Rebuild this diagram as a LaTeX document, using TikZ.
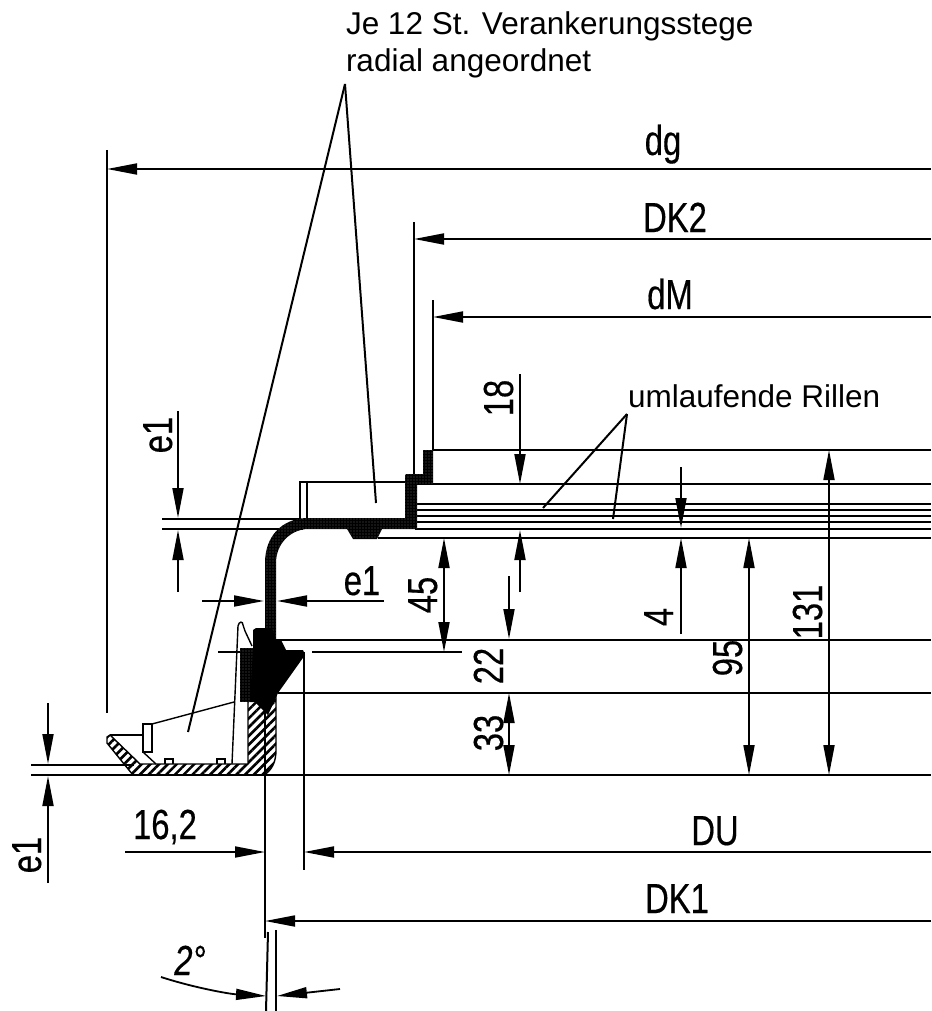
\documentclass[tikz,border=0pt]{standalone}
\usepackage{fontspec}
\setmainfont{Liberation Sans}
\newfontfamily\dimfont[FakeStretch=.78,FakeBold=.4]{Liberation Sans}
\usepackage{tikz}
\usetikzlibrary{arrows.meta}
\usetikzlibrary{patterns.meta}

\begin{document}
\begin{tikzpicture}[x=1pt,y=-1pt,line width=2pt,
  every node/.style={inner sep=0pt,font=\dimfont\fontsize{42}{44}\selectfont},
  note/.style={anchor=base west,font=\normalfont\fontsize{31.5}{34}\selectfont},
  tip/.tip={Triangle[length=30pt,width=11pt]},
  dimline/.style={-tip,line width=1.8pt},
  dimboth/.style={tip-tip,line width=1.8pt},
  thinline/.style={line width=1.4pt},
  hatched/.style={pattern={Lines[angle=45,distance=6.2pt,line width=2.6pt]},draw,line width=1.4pt},
  stipple/.style={fill=black,postaction={pattern={Dots[distance=3pt,radius=.3pt]},pattern color=white}}]

  \useasboundingbox (0,0) rectangle (931,1011);

  % long lines
  \def \xr {931}
  \draw (433,450) -- (\xr,450);
  \draw (415,484) -- (\xr,484);
  \draw (415,504) -- (\xr,504);
  \draw[thinline] (415,510) -- (\xr,510);
  \draw (415,516) -- (\xr,516);
  \draw (415,522) -- (\xr,522);
  \draw (415,529) -- (\xr,529);
  \draw (378,538) -- (\xr,538);
  \draw (276,640) -- (\xr,640);
  \draw (278,693) -- (\xr,693);
  \draw (31,775) -- (\xr,775);
  \draw (31,765) -- (134,765);
  \draw (162,519) -- (300,519);
  \draw (162,529) -- (303,529);
  \draw (218,652) -- (242,652);
  \draw (312,652) -- (462,652);

  % extension lines
  \draw (107,150) -- (107,713);
  \draw (414,222) -- (414,476);
  \draw (433,300) -- (433,450);
  \draw (265,712) -- (265,938);
  \draw (304,652) -- (304,870);
  \draw (268,932) -- (266,1011);
  \draw (276,930) -- (276,1011);

  % shell, hatched
  \draw[hatched] (107,737) -- (110,735) -- (140,764) -- (248,764) -- (248,700)
    -- (276,690) -- (276,750) .. controls (276,762) and (272,770) .. (264,775)
    -- (133,775) -- (107,743) -- cycle;
  \draw (265,712) -- (265,775);

  % small parts at the foot
  \draw[thinline] (110,735) -- (143,735);
  \draw[thinline] (143,724) rectangle (152,752);
  \draw[thinline] (152,724) -- (234,702);
  \draw[thinline] (143,752) -- (156,764);
  \draw[thinline] (165,764) -- (165,759) -- (173,759) -- (173,764);
  \draw[thinline] (217,764) -- (217,759) -- (225,759) -- (225,764);
  \draw[thinline] (232,764) -- (238,626) .. controls (239,621) and (243,621) .. (243,625)
    -- (245,631) -- (252,646);

  % profile
  \fill[stipple] (265,640) -- (265,563) .. controls (265,536) and (282,519) .. (306,518)
    -- (405,518) -- (405,476) .. controls (405,474) and (406,474) .. (408,474)
    -- (423,474) -- (423,450) -- (433,450) -- (433,484) -- (417,484) -- (417,529)
    -- (382,529) -- (377,539) -- (353,539) -- (347,529) -- (307,529)
    .. controls (290,530) and (276,544) .. (276,563) -- (276,640) -- cycle;
  \draw[thinline] (300,519) -- (300,482) -- (405,482);
  \draw[thinline] (307,518) -- (307,482);

  % block with the wedge
  \fill[stipple] (240,648) rectangle (268,702);
  \fill[black] (253,648) -- (253,630) -- (256,628) -- (272,628) -- (276,640) -- (281,640)
    -- (286,650) -- (303,650) -- (305,655) -- (278,693) -- (268,715) -- (255,702)
    -- (250,702) -- cycle;

  % dimensions to the right
  \def \y {169}
  \draw[dimline] (\xr,\y) -- (107,\y);
  \node[anchor=base] (dg) at (663,155) {dg};
  \def \y {239}
  \draw[dimline] (\xr,\y) -- (414,\y);
  \node[anchor=base] (dktwo) at (675,232) {DK2};
  \def \y {317}
  \draw[dimline] (\xr,\y) -- (433,\y);
  \node[anchor=base] (dm) at (670,309) {dM};
  \def \y {852}
  \draw[dimline] (\xr,\y) -- (304,\y);
  \node[anchor=base] (du) at (715,845) {DU};
  \draw[dimline] (125,\y) -- (265,\y);
  \node[anchor=base] (sixteen) at (165,839) {16,2};
  \def \y {921}
  \draw[dimline] (\xr,\y) -- (265,\y);
  \node[anchor=base] (dkone) at (677,913) {DK1};

  % vertical dimensions
  \def \x {520}
  \draw[dimline] (\x,374) -- (\x,484);
  \draw[dimline] (\x,592) -- (\x,530);
  \node[anchor=base,rotate=90] (eighteen) at (513,398) {18};
  \def \x {444}
  \draw[dimboth] (\x,538) -- (\x,652);
  \node[anchor=base,rotate=90] (fortyfive) at (437,595) {45};
  \def \x {509}
  \draw[dimline] (\x,576) -- (\x,639);
  \draw[dimboth] (\x,693) -- (\x,775);
  \node[anchor=base,rotate=90] (twentytwo) at (503,666) {22};
  \node[anchor=base,rotate=90] (thirtythree) at (503,733) {33};
  \def \x {681}
  \draw[dimline] (\x,467) -- (\x,528);
  \draw[dimline] (\x,634) -- (\x,538);
  \node[anchor=base,rotate=90] (four) at (673,617) {4};
  \draw[dimboth] (749,538) -- (749,775);
  \node[anchor=base,rotate=90] (ninetyfive) at (742,658) {95};
  \draw[dimboth] (829,450) -- (829,775);
  \node[anchor=base,rotate=90] (onethirtyone) at (822,612) {131};

  % wall thickness
  \def \x {178}
  \draw[dimline] (\x,411) -- (\x,518);
  \draw[dimline] (\x,592) -- (\x,530);
  \node[anchor=base,rotate=90] (eonetop) at (172,435) {e1};
  \def \x {48}
  \draw[dimline] (\x,703) -- (\x,764);
  \draw[dimline] (\x,883) -- (\x,776);
  \node[anchor=base,rotate=90] (eonebottom) at (41,855) {e1};
  \def \y {601}
  \draw[dimline] (202,\y) -- (264,\y);
  \draw[dimline] (384,\y) -- (277,\y);
  \node[anchor=base] (eonemid) at (362,595) {e1};

  % angle
  \draw[dimline] (161,977) .. controls (195,988) and (230,994) .. (266,996);
  \draw[dimline] (340,989) -- (277,996);
  \node[anchor=base] (angle) at (190,975) {\itshape 2°};

  % notes
  \node[note] (steg) at (345,35) {Je 12 St. Verankerungsstege};
  \node[note] (radial) at (345,72) {radial angeordnet};
  \coordinate (stegtip) at (345,84);
  \draw (stegtip) -- (188,732);
  \draw (stegtip) -- (376,503);
  \node[note] (rillen) at (627,407) {umlaufende Rillen};
  \coordinate (rillentip) at (627,414);
  \draw (rillentip) -- (543,508);
  \draw (rillentip) -- (613,519);

\end{tikzpicture}
\end{document}
